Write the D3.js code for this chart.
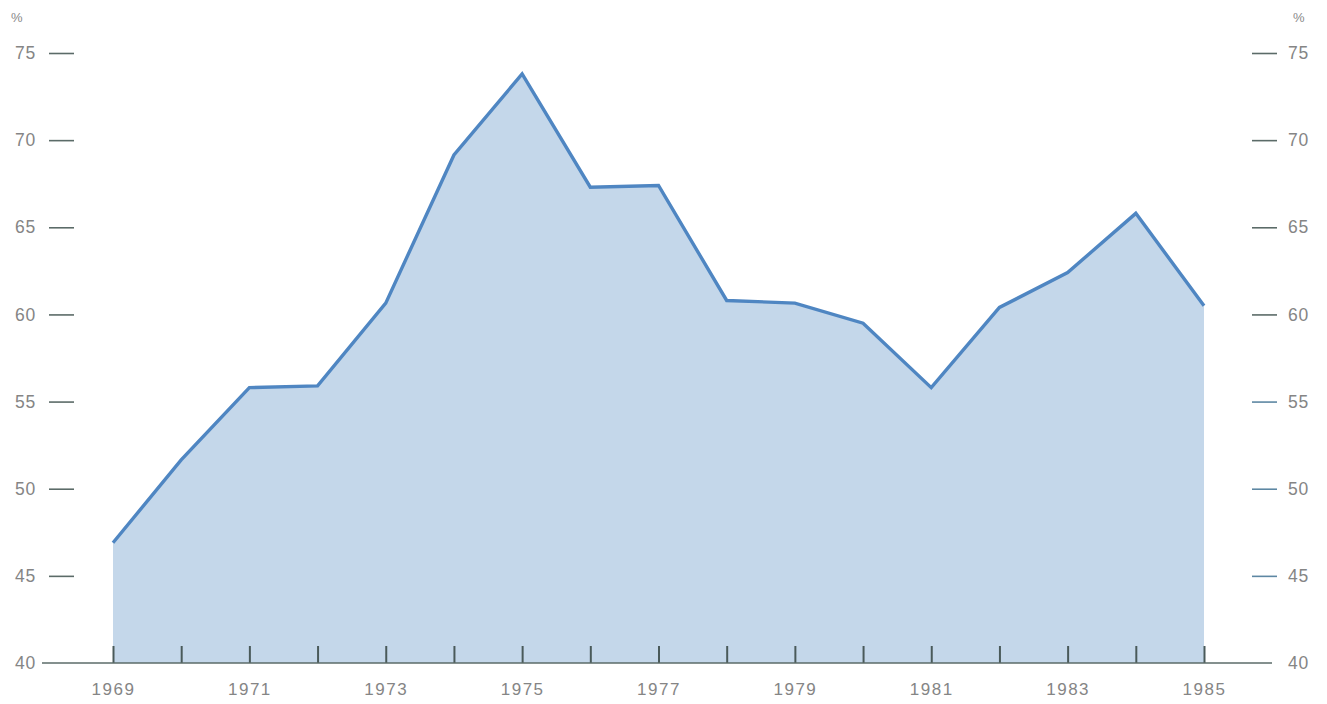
<!DOCTYPE html>
<html>
<head>
<meta charset="utf-8">
<script src="https://cdn.jsdelivr.net/npm/d3@7/dist/d3.min.js"></script>
<style>
  html, body { margin: 0; padding: 0; background: #fff; }
  svg { display: block; }
  text { font-family: "Liberation Sans", Arial, Helvetica, sans-serif; }
</style>
</head>
<body>
<svg id="chart" width="1327" height="704"></svg>
<script>
const years = [1969,1970,1971,1972,1973,1974,1975,1976,1977,1978,1979,1980,1981,1982,1983,1984,1985];
const values = [46.9,51.65,55.8,55.9,60.65,69.15,73.8,67.3,67.4,60.8,60.65,59.5,55.8,60.4,62.4,65.8,60.5];
const yTicks = [40,45,50,55,60,65,70,75];
const xLabelYears = [1969,1971,1973,1975,1977,1979,1981,1983,1985];
const unitLabel = "%";

const svg = d3.select("#chart");
const x = d3.scaleLinear().domain([1969, 1985]).range([113, 1204]);
const y = d3.scaleLinear().domain([40, 75]).range([663, 53]);

const data = years.map((yr, i) => ({year: yr, value: values[i]}));

// area
svg.append("path")
  .datum(data)
  .attr("fill", "#c4d7ea")
  .attr("d", d3.area().x(d => x(d.year)).y0(y(40)).y1(d => y(d.value)));

// line
svg.append("path")
  .datum(data)
  .attr("fill", "none")
  .attr("stroke", "#4f86c2")
  .attr("stroke-width", 3.4)
  .attr("stroke-linejoin", "miter")
  .attr("d", d3.line().x(d => x(d.year)).y(d => y(d.value)));

// left axis
const leftAxis = svg.append("g")
  .attr("transform", "translate(74,0)")
  .call(d3.axisLeft(y).tickValues(yTicks).tickSize(25).tickPadding(13).tickFormat(d3.format("d")));
// right axis
const rightAxis = svg.append("g")
  .attr("transform", "translate(1252,0)")
  .call(d3.axisRight(y).tickValues(yTicks).tickSize(25).tickPadding(11).tickFormat(d3.format("d")));

[leftAxis, rightAxis].forEach(g => {
  g.select(".domain").remove();
  g.selectAll(".tick line").attr("stroke", "#5b6b68").attr("stroke-width", 1.6);
  g.selectAll(".tick").filter(d => d === 40).select("line").remove();
  g.selectAll(".tick text").attr("fill", "#858585").attr("font-size", 17.5).attr("letter-spacing", 0.8);
});
rightAxis.selectAll(".tick").filter(d => d <= 55).select("line").attr("stroke", "#5d87a3");

// bottom axis
const bottomAxis = svg.append("g")
  .attr("transform", `translate(0,${y(40)})`)
  .call(d3.axisBottom(x).tickValues(years).tickSize(-17).tickPadding(20)
    .tickFormat(d => xLabelYears.includes(d) ? String(d) : ""));
bottomAxis.select(".domain").remove();
bottomAxis.selectAll(".tick line").attr("stroke", "#4a5a5a").attr("stroke-width", 2);
bottomAxis.selectAll(".tick text").attr("fill", "#858585").attr("font-size", 17).attr("letter-spacing", 1.5);

// baseline
svg.append("line")
  .attr("x1", 42).attr("x2", 1272)
  .attr("y1", y(40)).attr("y2", y(40))
  .attr("stroke", "#5b6b68").attr("stroke-width", 1.6);

// unit labels
svg.append("text").attr("x", 11).attr("y", 22).attr("font-size", 13).attr("fill", "#8a8a8a").text(unitLabel);
svg.append("text").attr("x", 1293).attr("y", 22).attr("font-size", 13).attr("fill", "#8a8a8a").text(unitLabel);
</script>
</body>
</html>
